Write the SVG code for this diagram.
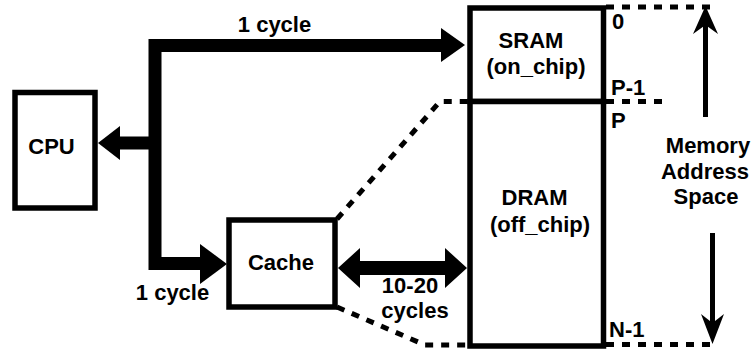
<svg xmlns="http://www.w3.org/2000/svg" width="756" height="354" viewBox="0 0 756 354">
<style>
text{font-family:"Liberation Sans",Arial,sans-serif;font-weight:bold;font-size:22px;fill:#000}
.c{text-anchor:middle}
.box{fill:#fff;stroke:#000;stroke-width:5.5}
.thick{fill:none;stroke:#000;stroke-width:13;stroke-linejoin:miter}
.dash{fill:none;stroke:#000;stroke-width:5;stroke-dasharray:8 8}
.thin{fill:none;stroke:#000;stroke-width:5}
</style>
<rect width="756" height="354" fill="#fff"/>
<g id="connectors">
  <path class="thick" d="M443 45.5 H155 V263.5 H202"/>
  <path d="M465 45 L441 28 L441 62 Z"/>
  <path d="M227 264 L200 244 L200 284 Z"/>
  <path class="thick" d="M155 143 H118"/>
  <path d="M98 143 L120 126 L120 160 Z"/>
  <path d="M338 268 L360 248 L360 288 Z M467 268 L445 248 L445 288 Z"/>
  <rect x="358" y="261" width="89" height="14"/>
  <path class="dash" d="M337 219 L440 101.5 H470"/>
  <path class="dash" d="M337 307 L425 345 H470"/>
  <path class="dash" d="M606 7 H712"/>
  <path class="dash" d="M606 101.5 H662"/>
  <path class="dash" d="M606 344.5 H716"/>
  <path class="thin" d="M705.5 117 V22"/>
  <path d="M705.5 6 L693 34 L705.5 25 L718 34 Z"/>
  <path class="thin" d="M712.5 233 V330"/>
  <path d="M712.5 344 L701 314 L712.5 323 L724 314 Z"/>
</g>
<g id="cpu">
  <rect class="box" x="15" y="92.5" width="80" height="115.5"/>
  <text class="c" x="51.5" y="154">CPU</text>
</g>
<g id="cache">
  <rect class="box" x="229" y="220" width="106" height="87"/>
  <text class="c" x="281" y="270">Cache</text>
</g>
<g id="sram">
  <rect class="box" x="470" y="8" width="133.5" height="93.5"/>
  <text class="c" x="531" y="48">SRAM</text>
  <text class="c" x="536" y="74">(on_chip)</text>
</g>
<g id="dram">
  <rect class="box" x="470" y="101.5" width="133.5" height="244.5"/>
  <text class="c" x="534.5" y="205">DRAM</text>
  <text class="c" x="540" y="231.5">(off_chip)</text>
</g>
<g id="labels">
  <text class="c" x="274.5" y="31.5">1 cycle</text>
  <text class="c" x="172.5" y="300">1 cycle</text>
  <text class="c" x="410" y="293">10-20</text>
  <text class="c" x="415" y="318">cycles</text>
  <text x="612" y="29">0</text>
  <text x="611" y="95">P-1</text>
  <text x="611" y="128">P</text>
  <text x="609" y="337">N-1</text>
  <text class="c" x="708" y="153">Memory</text>
  <text class="c" x="705" y="178.5">Address</text>
  <text class="c" x="706" y="204">Space</text>
</g>
</svg>
